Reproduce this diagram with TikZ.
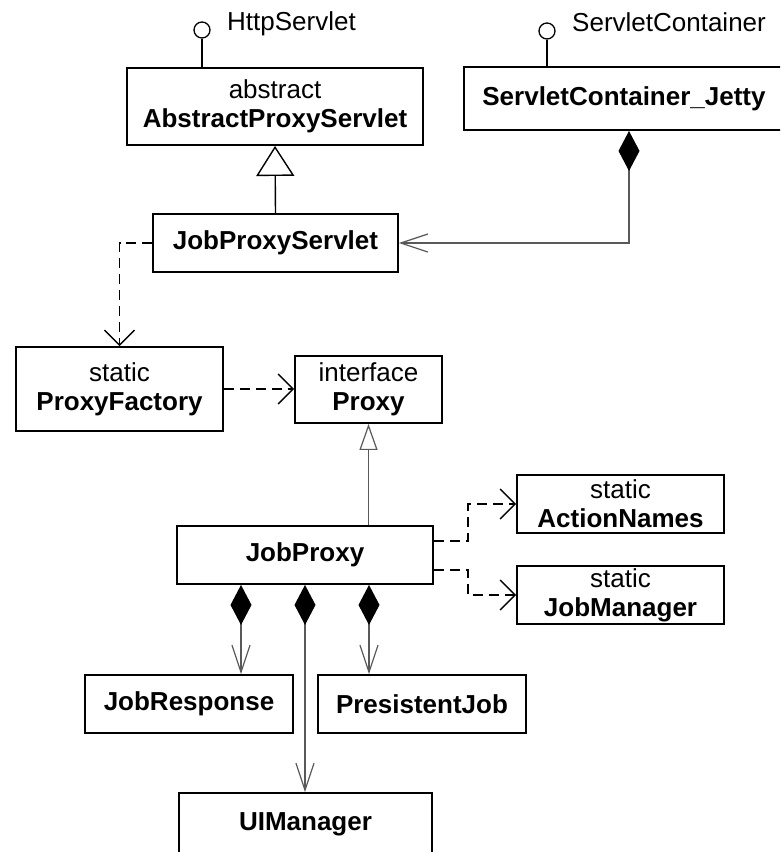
\documentclass[tikz,border=0pt]{standalone}
\usepackage{fontspec}
\setmainfont{Liberation Sans}
\usetikzlibrary{arrows.meta,calc}
\begin{document}
\begin{tikzpicture}[x=1pt,y=-1pt,
  every node/.style={font=\fontsize{26}{29}\selectfont},
  box/.style={draw=black,line width=1.9pt,fill=white,inner sep=0pt,align=center},
  gencon/.style={draw=black!65,line width=1.4pt},
  compcon/.style={draw=black!65,line width=1.4pt,
    {Diamond[length=40pt,width=21pt,fill=black,color=black]}-{Straight Barb[length=27pt,width=18pt,line width=1.2pt]}},
  depcon/.style={draw=black,line width=1.5pt,dash pattern=on 10pt off 6pt,
    -{Straight Barb[length=15pt,width=30pt,line width=1.4pt]}},
  lolli/.style={circle,draw=black,line width=1.3pt,minimum size=16pt,inner sep=0pt,fill=white}
]
\path[use as bounding box,clip] (0,0) rectangle (780,852);
\fill[white] (0,0) rectangle (780,852);

% boxes
\node[box,minimum width=296pt,minimum height=77pt] (abs) at (275,106.5) {abstract\\\textbf{AbstractProxyServlet}};
\node[box,minimum width=320pt,minimum height=63pt] (scj) at (624,98.5) {\textbf{ServletContainer\_Jetty}};
\node[box,minimum width=245pt,minimum height=58pt] (jps) at (275.5,243) {\textbf{JobProxyServlet}};
\node[box,minimum width=207pt,minimum height=84pt] (pf) at (119.5,389) {static\\\textbf{ProxyFactory}};
\node[box,minimum width=147pt,minimum height=67pt] (proxy) at (368.5,389.5) {interface\\\textbf{Proxy}};
\node[box,minimum width=256pt,minimum height=58pt] (jp) at (305,555) {\textbf{JobProxy}};
\node[box,minimum width=207pt,minimum height=58pt] (an) at (620.5,504) {static\\\textbf{ActionNames}};
\node[box,minimum width=207pt,minimum height=58pt] (jm) at (620.5,595) {static\\\textbf{JobManager}};
\node[box,minimum width=208pt,minimum height=58pt] (jr) at (189,704) {\textbf{JobResponse}};
\node[box,minimum width=208pt,minimum height=58pt] (pj) at (422,704) {\textbf{PresistentJob}};
\node[box,minimum width=253pt,minimum height=62pt] (ui) at (305.5,824) {\textbf{UIManager}};

% lollipops
\node[lolli] (c1) at (202,30) {};
\draw[black,line width=1.3pt] (c1) -- (c1 |- abs.north);
\node[anchor=base west,inner sep=0pt] (t1) at (227,30) {HttpServlet};
\node[lolli] (c2) at (547,31) {};
\draw[black,line width=1.3pt] (c2) -- (c2 |- scj.north);
\node[anchor=base west,inner sep=0pt] (t2) at (572,31) {ServletContainer};

% generalizations
\draw[gencon,draw=black,-{Triangle[open,length=30pt,width=38pt,line width=1.4pt,fill=white]}] (jps.north) -- (abs.south);
\draw[gencon,-{Triangle[open,length=26pt,width=18pt,line width=1.2pt,fill=white]}] (proxy.south |- jp.north) -- (proxy.south);

% composition from ServletContainer_Jetty
\path ($(scj.south)+(5,0)$) coordinate (s1);
\draw[compcon] (s1) |- (jps.east);

% dependencies
\draw[depcon] (jps.west) -| (pf.north);
\draw[depcon] (pf.east) -- (pf.east -| proxy.west);
\path ($(jp.east)+(0,-14)$) coordinate (e1);
\path ($(jp.east)+(0,15)$) coordinate (e2);
\draw[depcon] (e1) -- ++(34,0) |- (an.west);
\draw[depcon] (e2) -- ++(34,0) |- (jm.west);

% compositions from JobProxy
\path ($(jp.south)+(-64,0)$) coordinate (d1);
\path ($(jp.south)+(64,0)$) coordinate (d3);
\draw[compcon] (d1) -- (d1 |- jr.north);
\draw[compcon] (jp.south) -- (jp.south |- ui.north);
\draw[compcon] (d3) -- (d3 |- pj.north);
\end{tikzpicture}
\end{document}
